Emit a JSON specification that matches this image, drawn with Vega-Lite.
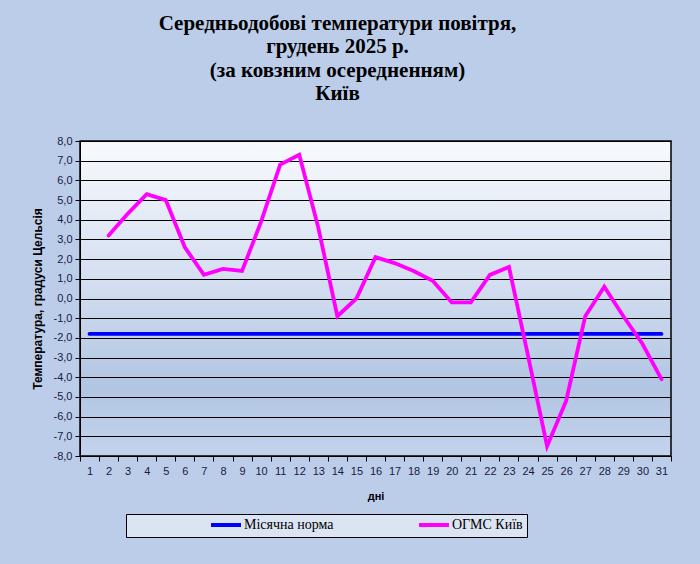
{
  "$schema": "https://vega.github.io/schema/vega-lite/v6.json",
  "width": 591,
  "height": 315,
  "autosize": "none",
  "padding": {"left": 80, "top": 141, "right": 29, "bottom": 108},
  "background": "#bccdea",
  "config": {
    "locale": {"number": {"decimal": ",", "thousands": " ", "grouping": [3], "currency": ["", ""], "minus": "-"}},
    "view": {
      "stroke": "#000000",
      "strokeWidth": 1.5,
      "fill": {
        "gradient": "linear",
        "x1": 0, "y1": 0, "x2": 0, "y2": 1,
        "stops": [
          {"offset": 0, "color": "#f8fafd"},
          {"offset": 0.45, "color": "#d3def0"},
          {"offset": 0.78, "color": "#b1c5e2"},
          {"offset": 1, "color": "#c4d3ec"}
        ]
      }
    },
    "axis": {
      "labelFont": "Liberation Sans",
      "labelFontSize": 11,
      "labelColor": "#1a1a3a",
      "titleFont": "Liberation Sans",
      "titleFontWeight": "bold",
      "titleFontSize": 11,
      "titleColor": "#000000",
      "domainColor": "#000000",
      "tickColor": "#000000",
      "tickSize": 5
    },
    "legend": {
      "labelFont": "Liberation Serif"
    }
  },
  "title": {
    "text": ["Середньодобові температури повітря,", "грудень 2025 р.", "(за ковзним осередненням)", "Київ"],
    "font": "Liberation Serif",
    "fontSize": 21,
    "fontWeight": "bold",
    "color": "#000000",
    "lineHeight": 23.5,
    "anchor": "middle",
    "dx": -38,
    "offset": 31
  },
  "data": {
    "values": [
      {"day": 1, "series": "Місячна норма", "t": -1.8},
      {"day": 2, "series": "Місячна норма", "t": -1.8},
      {"day": 3, "series": "Місячна норма", "t": -1.8},
      {"day": 4, "series": "Місячна норма", "t": -1.8},
      {"day": 5, "series": "Місячна норма", "t": -1.8},
      {"day": 6, "series": "Місячна норма", "t": -1.8},
      {"day": 7, "series": "Місячна норма", "t": -1.8},
      {"day": 8, "series": "Місячна норма", "t": -1.8},
      {"day": 9, "series": "Місячна норма", "t": -1.8},
      {"day": 10, "series": "Місячна норма", "t": -1.8},
      {"day": 11, "series": "Місячна норма", "t": -1.8},
      {"day": 12, "series": "Місячна норма", "t": -1.8},
      {"day": 13, "series": "Місячна норма", "t": -1.8},
      {"day": 14, "series": "Місячна норма", "t": -1.8},
      {"day": 15, "series": "Місячна норма", "t": -1.8},
      {"day": 16, "series": "Місячна норма", "t": -1.8},
      {"day": 17, "series": "Місячна норма", "t": -1.8},
      {"day": 18, "series": "Місячна норма", "t": -1.8},
      {"day": 19, "series": "Місячна норма", "t": -1.8},
      {"day": 20, "series": "Місячна норма", "t": -1.8},
      {"day": 21, "series": "Місячна норма", "t": -1.8},
      {"day": 22, "series": "Місячна норма", "t": -1.8},
      {"day": 23, "series": "Місячна норма", "t": -1.8},
      {"day": 24, "series": "Місячна норма", "t": -1.8},
      {"day": 25, "series": "Місячна норма", "t": -1.8},
      {"day": 26, "series": "Місячна норма", "t": -1.8},
      {"day": 27, "series": "Місячна норма", "t": -1.8},
      {"day": 28, "series": "Місячна норма", "t": -1.8},
      {"day": 29, "series": "Місячна норма", "t": -1.8},
      {"day": 30, "series": "Місячна норма", "t": -1.8},
      {"day": 31, "series": "Місячна норма", "t": -1.8},
      {"day": 2, "series": "ОГМС Київ", "t": 3.2},
      {"day": 3, "series": "ОГМС Київ", "t": 4.3},
      {"day": 4, "series": "ОГМС Київ", "t": 5.3},
      {"day": 5, "series": "ОГМС Київ", "t": 5.0},
      {"day": 6, "series": "ОГМС Київ", "t": 2.6},
      {"day": 7, "series": "ОГМС Київ", "t": 1.2},
      {"day": 8, "series": "ОГМС Київ", "t": 1.5},
      {"day": 9, "series": "ОГМС Київ", "t": 1.4},
      {"day": 10, "series": "ОГМС Київ", "t": 3.9},
      {"day": 11, "series": "ОГМС Київ", "t": 6.8},
      {"day": 12, "series": "ОГМС Київ", "t": 7.3},
      {"day": 13, "series": "ОГМС Київ", "t": 3.6},
      {"day": 14, "series": "ОГМС Київ", "t": -0.9},
      {"day": 15, "series": "ОГМС Київ", "t": 0.0},
      {"day": 16, "series": "ОГМС Київ", "t": 2.1},
      {"day": 17, "series": "ОГМС Київ", "t": 1.8},
      {"day": 18, "series": "ОГМС Київ", "t": 1.4},
      {"day": 19, "series": "ОГМС Київ", "t": 0.9},
      {"day": 20, "series": "ОГМС Київ", "t": -0.2},
      {"day": 21, "series": "ОГМС Київ", "t": -0.2},
      {"day": 22, "series": "ОГМС Київ", "t": 1.2},
      {"day": 23, "series": "ОГМС Київ", "t": 1.6},
      {"day": 24, "series": "ОГМС Київ", "t": -2.9},
      {"day": 25, "series": "ОГМС Київ", "t": -7.5},
      {"day": 26, "series": "ОГМС Київ", "t": -5.2},
      {"day": 27, "series": "ОГМС Київ", "t": -0.9},
      {"day": 28, "series": "ОГМС Київ", "t": 0.6},
      {"day": 29, "series": "ОГМС Київ", "t": -0.9},
      {"day": 30, "series": "ОГМС Київ", "t": -2.3},
      {"day": 31, "series": "ОГМС Київ", "t": -4.1}
    ]
  },
  "mark": {"type": "line", "strokeWidth": 3.8, "strokeCap": "round", "strokeJoin": "miter"},
  "encoding": {
    "x": {
      "field": "day",
      "type": "ordinal",
      "scale": {"paddingInner": 0, "paddingOuter": 0},
      "axis": {
        "title": "дні",
        "labelAngle": 0,
        "tickBand": "extent",
        "labelPadding": 4,
        "titlePadding": 14,
        "grid": false
      }
    },
    "y": {
      "field": "t",
      "type": "quantitative",
      "scale": {"domain": [-8, 8], "nice": false},
      "axis": {
        "title": "Температура, градуси Цельсія",
        "titleFontSize": 12,
        "values": [-8, -7, -6, -5, -4, -3, -2, -1, 0, 1, 2, 3, 4, 5, 6, 7, 8],
        "format": ".1f",
        "grid": true,
        "gridColor": "#000000",
        "gridWidth": 1.2,
        "gridOpacity": 1,
        "labelPadding": 3,
        "titlePadding": 9
      }
    },
    "color": {
      "field": "series",
      "type": "nominal",
      "scale": {"domain": ["Місячна норма", "ОГМС Київ"], "range": ["#0000ff", "#ff00ff"]},
      "legend": {
        "title": null,
        "orient": "none",
        "legendX": 46,
        "legendY": 373,
        "direction": "horizontal",
        "columns": 2,
        "gridAlign": "all",
        "symbolType": "M-3,0H3",
        "symbolStrokeWidth": 4,
        "symbolSize": 100,
        "symbolOffset": 89,
        "columnPadding": 4,
        "labelOffset": 11,
        "labelFont": "Liberation Serif",
        "labelFontSize": 14,
        "labelColor": "#000000",
        "padding": 4,
        "strokeColor": "#000000",
        "fillColor": "#dbe4f3"
      }
    }
  }
}
